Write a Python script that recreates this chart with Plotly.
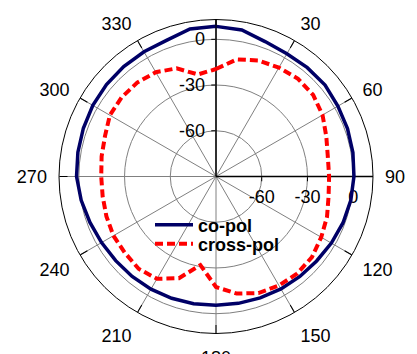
import plotly.graph_objects as go

# angles in degrees (0 at top, clockwise)
theta_deg = [0, 10, 20, 30, 40, 50, 60, 70, 80, 90, 100, 110, 120, 130, 140, 150, 160, 170,
             180, 190, 200, 210, 220, 230, 240, 250, 260, 270, 280, 290, 300, 310, 320, 330, 340, 350]
co_pol = [8.5, 7.6, 4.2, 3.0, 3.2, 3.4, 2.3, 1.8, 1.2, 0.5, -0.2, -1.3, -2.6, -3.8, -4.4, -4.8, -5.2, -5.5,
          -5.6, -5.2, -5.0, -4.7, -4.4, -4.1, -3.3, -2.0, -0.2, 1.5, 2.0, 2.6, 3.3, 3.8, 4.2, 4.5, 5.0, 8.3]
cross_pol = [-19.5, -12, -9, -7.5, -6.3, -6.8, -9.3, -13, -15.5, -15.8, -15, -12.5, -10.3, -7.8, -7, -7.4, -8.6, -12,
             -17.5, -31, -19, -12.5, -11, -12, -12.3, -13.5, -14.5, -14.7, -13.8, -12.5, -9.6, -9.2, -9.6, -11, -14.5, -22]
series_names = ["co-pol", "cross-pol"]
angular_ticks = [0, 30, 60, 90, 120, 150, 180, 210, 240, 270, 300, 330]
radial_ticks = [-60, -30, 0]
r_range = [-90, 13]

FONT = "Liberation Sans, Arial, sans-serif"
# figure sits in the page with an 8px body margin
W, H = 409, 346
cx, cy, R = 208, 168.5, 157

def close(a):
    return list(a) + [a[0]]

fig = go.Figure()
# dummy trace so the base polar (grid, angular labels, vertical radial axis) renders
fig.add_trace(go.Scatterpolar(r=[None], theta=[0], subplot="polar", showlegend=False, hoverinfo="skip"))
fig.add_trace(go.Scatterpolar(r=close(co_pol), theta=close(theta_deg), mode="lines", name=series_names[0],
                              line=dict(color="#000066", width=3.5), subplot="polar2", legend="legend"))
fig.add_trace(go.Scatterpolar(r=close(cross_pol), theta=close(theta_deg), mode="lines", name=series_names[1],
                              line=dict(color="#ff0000", width=4, dash="8px,4px"), subplot="polar2",
                              legend="legend2"))

dom = dict(x=[(cx - R) / W, (cx + R) / W], y=[1 - (cy + R) / H, 1 - (cy - R) / H])
tf = dict(family=FONT, size=18, color="black")
lf = dict(family=FONT, size=18, color="black", weight="bold")

fig.update_layout(
    width=W, height=H,
    margin=dict(l=0, r=0, t=0, b=0),
    paper_bgcolor="white",
    font=dict(family=FONT, size=18, color="black"),
    polar=dict(
        domain=dom,
        bgcolor="white",
        angularaxis=dict(rotation=90, direction="clockwise", tickmode="array", tickvals=angular_ticks,
                         ticktext=[str(t) for t in angular_ticks], ticks="outside", ticklen=8,
                         tickcolor="rgba(0,0,0,0)", showline=True, linecolor="black", linewidth=1,
                         showgrid=True, gridcolor="#808080", gridwidth=1, tickfont=tf),
        radialaxis=dict(range=r_range, angle=90, side="counterclockwise", tickmode="array",
                        tickvals=radial_ticks, ticktext=[str(t) for t in radial_ticks],
                        ticks="outside", ticklen=4, tickcolor="black", showline=True, linecolor="black",
                        linewidth=1.5, showgrid=True, gridcolor="#808080", gridwidth=1, tickangle=90,
                        tickfont=tf),
    ),
    polar2=dict(
        domain=dom,
        bgcolor="rgba(0,0,0,0)",
        angularaxis=dict(rotation=90, direction="clockwise", tickmode="array", tickvals=angular_ticks,
                         showticklabels=False, ticks="inside", ticklen=8, tickcolor="black", tickwidth=1,
                         showline=False, showgrid=False),
        radialaxis=dict(range=r_range, angle=0, side="clockwise", tickmode="array",
                        tickvals=radial_ticks, ticktext=[str(t) for t in radial_ticks],
                        ticks="outside", ticklen=4, tickcolor="black", showline=True, linecolor="black",
                        linewidth=1.5, showgrid=False, tickangle=0, layer="below traces", tickfont=tf),
    ),
    legend=dict(x=142 / W, y=1 - 217 / H, xanchor="left", yanchor="middle", bgcolor="rgba(0,0,0,0)",
                itemwidth=38, font=lf),
    legend2=dict(x=142 / W, y=1 - 236 / H, xanchor="left", yanchor="middle", bgcolor="rgba(0,0,0,0)",
                 itemwidth=38, font=lf),
    showlegend=True,
)

fig.write_html("out.html")
